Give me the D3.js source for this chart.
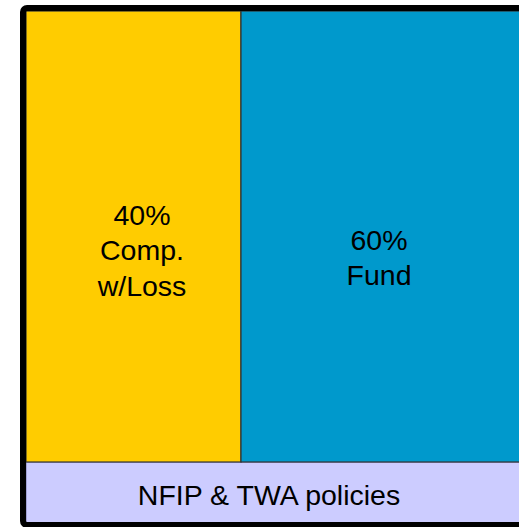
<!DOCTYPE html>
<html>
<head>
<meta charset="utf-8">
<script src="https://cdn.jsdelivr.net/npm/d3@7"></script>
<style>
  html, body { margin: 0; padding: 0; background: #fff; }
  svg { display: block; }
  text { font-family: Arial, "Liberation Sans", Helvetica, sans-serif; }
</style>
</head>
<body>
<svg id="chart" width="519" height="527"></svg>
<script>
// ---- data ----
const categories = ["Comp. w/Loss", "Fund"];
const shares = [40, 60];
const labelLines = [["40%", "Comp.", "w/Loss"], ["60%", "Fund"]];
const colors = ["#FFCC00", "#0099CC"];
const baseLabel = "NFIP & TWA policies";
const baseColor = "#CCCCFF";

// ---- layout ----
const svg = d3.select("#chart");
const leftX = 26, topY = 11, splitY = 462, bottomY = 523;
const x = d3.scaleLinear().domain([0, 100]).range([leftX, leftX + 215 / 0.4]);
const labelX = [142, 379];
const labelBase = [225, 250]; // baseline of first line
const fontSize = 28.5, lineH = 35.3;

let cum = 0;
const segs = shares.map((v, i) => {
  const s = { i, x0: cum, x1: cum + v };
  cum += v;
  return s;
});

// base (lavender) band
svg.append("rect")
  .attr("x", x(0)).attr("y", splitY)
  .attr("width", x(100) - x(0)).attr("height", bottomY - splitY)
  .attr("fill", baseColor).attr("stroke", "#7777aa").attr("stroke-width", 1);

// segments
svg.selectAll("rect.seg").data(segs).enter().append("rect")
  .attr("class", "seg")
  .attr("x", d => x(d.x0)).attr("y", topY)
  .attr("width", d => x(d.x1) - x(d.x0)).attr("height", splitY - topY)
  .attr("fill", d => colors[d.i])
  .attr("stroke", "#333").attr("stroke-width", 1.2);

// segment labels
segs.forEach(d => {
  const lines = labelLines[d.i];
  const t = svg.append("text")
    .attr("x", labelX[d.i])
    .attr("text-anchor", "middle")
    .attr("font-size", fontSize)
    .attr("fill", "#000");
  lines.forEach((ln, k) => {
    t.append("tspan")
      .attr("x", labelX[d.i])
      .attr("y", labelBase[d.i] + k * lineH)
      .text(ln);
  });
});

// base label
svg.append("text")
  .attr("x", 269).attr("y", 505)
  .attr("text-anchor", "middle")
  .attr("font-size", fontSize)
  .attr("fill", "#000")
  .text(baseLabel);

// outer frame
svg.append("rect")
  .attr("x", 23).attr("y", 8)
  .attr("width", x(100) - 23 + 3).attr("height", 517)
  .attr("rx", 4).attr("ry", 4)
  .attr("fill", "none").attr("stroke", "#000").attr("stroke-width", 6);
</script>
</body>
</html>
